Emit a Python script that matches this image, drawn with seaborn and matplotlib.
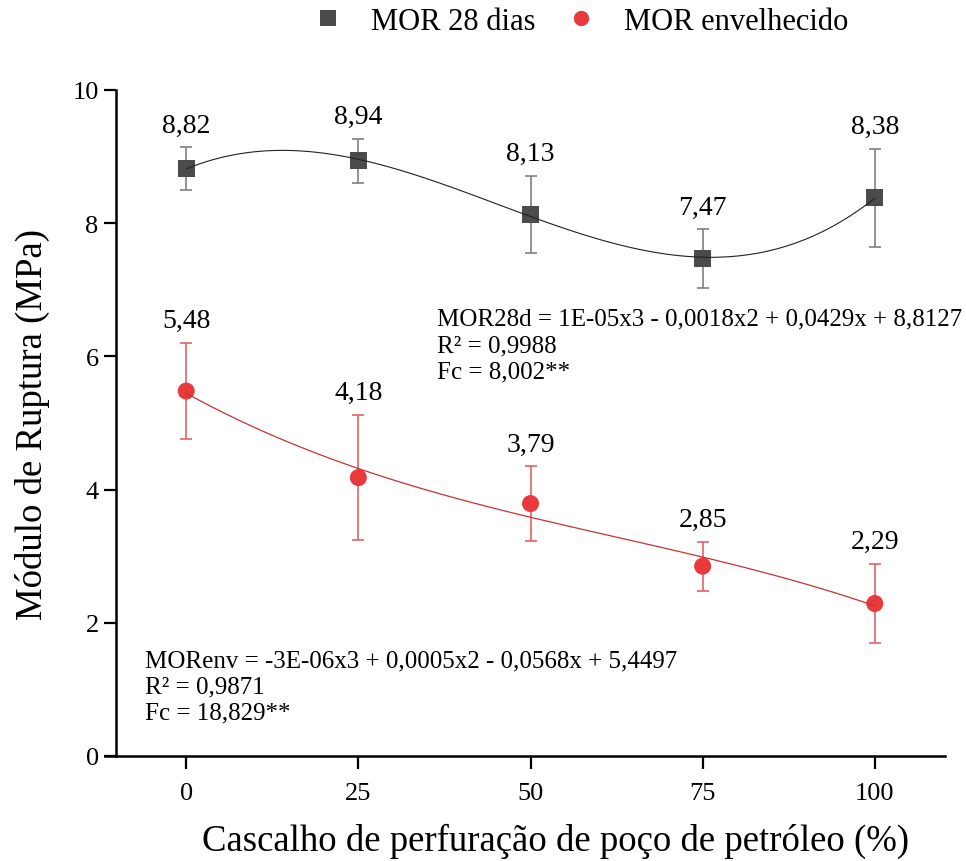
import numpy as np
import pandas as pd
import matplotlib
matplotlib.use("Agg")
import matplotlib.pyplot as plt
import seaborn as sns

# Data
cascalho = [0, 25, 50, 75, 100]
mor_28 = [8.82, 8.94, 8.13, 7.47, 8.38]
mor_28_err = [0.32, 0.33, 0.58, 0.44, 0.74]
mor_env = [5.48, 4.18, 3.79, 2.85, 2.29]
mor_env_err = [0.72, 0.94, 0.56, 0.37, 0.60]
series_names = ["MOR 28 dias", "MOR envelhecido"]
x_ticks = [0, 25, 50, 75, 100]
y_ticks = [0, 2, 4, 6, 8, 10]

eq_28 = "MOR28d = 1E-05x3 - 0,0018x2 + 0,0429x + 8,8127\nR² = 0,9988\nFc = 8,002**"
eq_env = "MORenv = -3E-06x3 + 0,0005x2 - 0,0568x + 5,4497\nR² = 0,9871\nFc = 18,829**"

sns.set_theme(style="ticks")
serif = ["Liberation Serif", "DejaVu Serif"]
plt.rcParams["font.family"] = serif
plt.rcParams["text.color"] = "black"
plt.rcParams["axes.labelcolor"] = "black"
plt.rcParams["xtick.color"] = "black"
plt.rcParams["ytick.color"] = "black"

gray = "#4b4b4b"
red = "#e8393b"

df = pd.DataFrame({
    "x": cascalho * 2,
    "y": mor_28 + mor_env,
    "err": mor_28_err + mor_env_err,
    "serie": [series_names[0]] * 5 + [series_names[1]] * 5,
})

fig = plt.figure(figsize=(9.66, 8.62), dpi=100)
ax = fig.add_axes([116 / 966, 1 - 757 / 862, (945 - 116) / 966, (757 - 91) / 862])

# Error bars
ax.errorbar(cascalho, mor_28, yerr=mor_28_err, fmt="none", ecolor="#808080",
            elinewidth=1.2, capsize=4.5, capthick=1.2, zorder=2)
ax.errorbar(cascalho, mor_env, yerr=mor_env_err, fmt="none", ecolor="#e06464",
            elinewidth=1.2, capsize=4.5, capthick=1.2, zorder=2)

# Markers
sns.scatterplot(data=df, x="x", y="y", hue="serie", style="serie",
                palette={series_names[0]: gray, series_names[1]: red},
                markers={series_names[0]: "s", series_names[1]: "o"},
                s=150, linewidth=0, ax=ax, zorder=3)

# Cubic trend lines
sns.regplot(x=cascalho, y=mor_28, order=3, ci=None, scatter=False, ax=ax,
            line_kws=dict(color="#222222", lw=0.8, zorder=4))
sns.regplot(x=cascalho, y=mor_env, order=3, ci=None, scatter=False, ax=ax,
            line_kws=dict(color="#c83232", lw=0.9, zorder=4))

# Value labels above the upper error caps
for xs, ys, es in [(cascalho, mor_28, mor_28_err), (cascalho, mor_env, mor_env_err)]:
    for xv, yv, ev in zip(xs, ys, es):
        ax.annotate(f"{yv:.2f}".replace(".", ","), (xv, yv + ev),
                    xytext=(0, 7), textcoords="offset points",
                    ha="center", va="bottom", fontsize=20, color="black")

# Regression equations
ax.text(0.387, 0.673, eq_28, transform=ax.transAxes, fontsize=18,
        ha="left", va="top", linespacing=1.25, color="black")
ax.text(0.035, 0.160, eq_env, transform=ax.transAxes, fontsize=18,
        ha="left", va="top", linespacing=1.25, color="black")

ax.set_xlim(-10.2, 110.2)
ax.set_ylim(0, 10)
ax.set_xticks(x_ticks)
ax.set_yticks(y_ticks)
ax.tick_params(axis="both", direction="out", length=9, width=1.6, labelsize=19,
               colors="black")
ax.tick_params(axis="x", pad=10)
for side in ["top", "right"]:
    ax.spines[side].set_visible(False)
for side in ["left", "bottom"]:
    ax.spines[side].set_linewidth(1.8)
    ax.spines[side].set_color("black")
ax.spines["bottom"].set_bounds(-11.8, 110.2)

ax.set_xlabel("Cascalho de perfuração de poço de petróleo (%)", fontsize=26.5,
              color="black")
ax.set_ylabel("Módulo de Ruptura (MPa)", fontsize=26.5, color="black")
ax.xaxis.set_label_coords(0.53, -0.1)
ax.yaxis.set_label_coords(-0.08, 0.5)

sns.move_legend(ax, "center", bbox_to_anchor=(0.551, 1.1036), ncol=2,
                frameon=False, title=None,
                prop={"family": serif, "size": 22},
                handletextpad=0.4, columnspacing=0.5, markerscale=0.9)
for t in ax.get_legend().get_texts():
    t.set_color("black")

fig.savefig("out.png", dpi=100, facecolor="white")
